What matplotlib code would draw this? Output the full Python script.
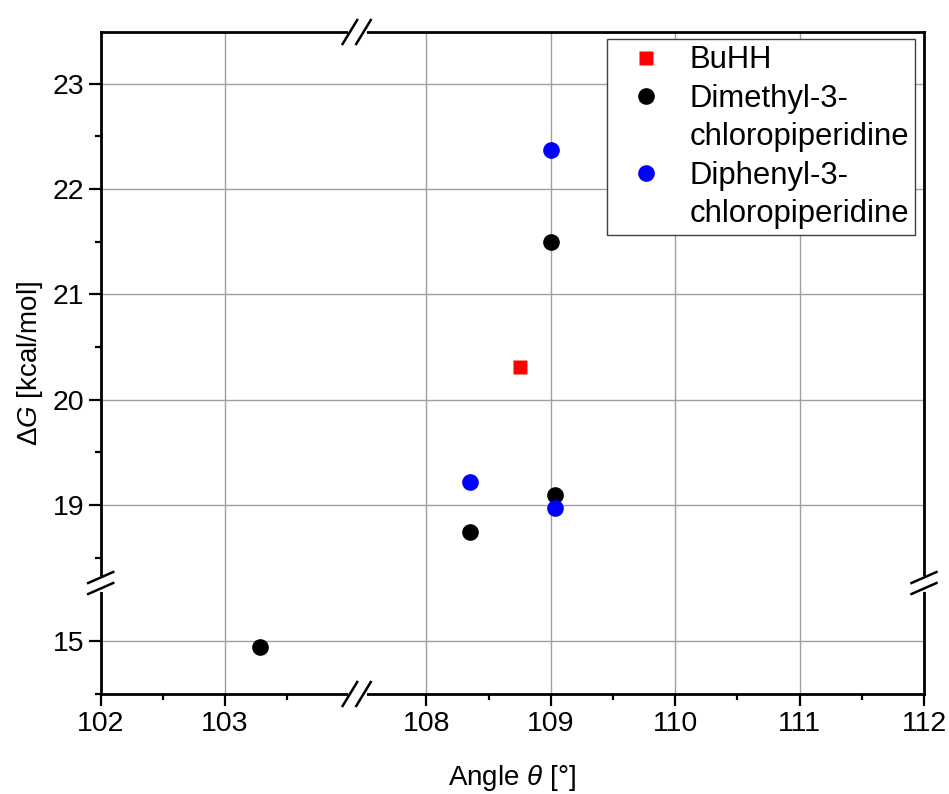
import matplotlib
matplotlib.use('Agg')
import matplotlib.pyplot as plt
from matplotlib.lines import Line2D
from matplotlib.ticker import FixedLocator

plt.rcParams['font.family'] = ['Liberation Sans', 'DejaVu Sans']
plt.rcParams['mathtext.fontset'] = 'custom'
plt.rcParams['mathtext.rm'] = 'Liberation Sans'
plt.rcParams['mathtext.it'] = 'Liberation Sans:italic'

# data
buhh_x = [108.75]
buhh_y = [20.31]
dimethyl_x = [103.28, 108.35, 109.03, 109.0]
dimethyl_y = [14.94, 18.74, 19.10, 21.50]
diphenyl_x = [108.35, 109.03, 109.0]
diphenyl_y = [19.22, 18.97, 22.37]

labels = ["BuHH", "Dimethyl-3-\nchloropiperidine", "Diphenyl-3-\nchloropiperidine"]

x_left = (102, 104.06)
x_right = (107.44, 112)
y_top = (18.26, 23.49)
y_bot = (14.5, 15.55)

W, H = 949, 794
fig = plt.figure(figsize=(W / 100, H / 100), dpi=100)
L, R, T, B = 100.7, 924.0, 32.0, 694.0
XB, YB = 356.7, 583.0
gs = fig.add_gridspec(2, 2, width_ratios=[XB - L, R - XB], height_ratios=[YB - T, B - YB],
                      left=L / W, right=R / W, top=1 - T / H, bottom=1 - B / H,
                      wspace=0, hspace=0)
ax_tl = fig.add_subplot(gs[0, 0])
ax_tr = fig.add_subplot(gs[0, 1])
ax_bl = fig.add_subplot(gs[1, 0])
ax_br = fig.add_subplot(gs[1, 1])

axes = [ax_tl, ax_tr, ax_bl, ax_br]
series = [
    (buhh_x, buhh_y, 's', '#ff0000', 10),
    (dimethyl_x, dimethyl_y, 'o', 'black', 12),
    (diphenyl_x, diphenyl_y, 'o', '#0000ff', 12),
]
for ax in axes:
    for xs, ys, mk, col, ms in series:
        ax.plot(xs, ys, mk, color=col, ms=ms, mec='none')
    ax.grid(True, which='major', color='#a0a0a0', lw=1.0)
    ax.set_axisbelow(True)
    for s in ax.spines.values():
        s.set_linewidth(2.0)
    ax.tick_params(which='major', length=8.5, width=1.6, labelsize=20.5, direction='out')
    ax.tick_params(which='minor', length=4.5, width=1.6, direction='out')

for ax in (ax_tl, ax_bl):
    ax.set_xlim(*x_left)
    ax.xaxis.set_major_locator(FixedLocator([102, 103]))
    ax.xaxis.set_minor_locator(FixedLocator([102.5, 103.5]))
for ax in (ax_tr, ax_br):
    ax.set_xlim(*x_right)
    ax.xaxis.set_major_locator(FixedLocator([108, 109, 110, 111, 112]))
    ax.xaxis.set_minor_locator(FixedLocator([108.5, 109.5, 110.5, 111.5]))
for ax in (ax_tl, ax_tr):
    ax.set_ylim(*y_top)
    ax.yaxis.set_major_locator(FixedLocator([19, 20, 21, 22, 23]))
    ax.yaxis.set_minor_locator(FixedLocator([18.5, 19.5, 20.5, 21.5, 22.5]))
for ax in (ax_bl, ax_br):
    ax.set_ylim(*y_bot)
    ax.yaxis.set_major_locator(FixedLocator([15]))
    ax.yaxis.set_minor_locator(FixedLocator([14.5]))

ax_tl.spines['bottom'].set_visible(False)
ax_tl.spines['right'].set_visible(False)
ax_tl.tick_params(which='both', bottom=False, labelbottom=False)
ax_tr.spines['bottom'].set_visible(False)
ax_tr.spines['left'].set_visible(False)
ax_tr.tick_params(which='both', bottom=False, labelbottom=False, left=False, labelleft=False)
ax_bl.spines['top'].set_visible(False)
ax_bl.spines['right'].set_visible(False)
ax_br.spines['top'].set_visible(False)
ax_br.spines['left'].set_visible(False)
ax_br.tick_params(which='both', left=False, labelleft=False)

# break marks
def fx(px):
    return px / W

def fy(py):
    return 1 - py / H

def xbreak(yc):
    fig.add_artist(Line2D([fx(XB - 7), fx(XB + 7)], [fy(yc), fy(yc)], color='white', lw=3.5,
                          transform=fig.transFigure, zorder=10))
    for cx in (XB - 6.8, XB + 6.8):
        fig.add_artist(Line2D([fx(cx - 7.3), fx(cx + 7.3)], [fy(yc + 12), fy(yc - 12)],
                              color='black', lw=1.8, transform=fig.transFigure, zorder=11))

def ybreak(xc):
    fig.add_artist(Line2D([fx(xc), fx(xc)], [fy(YB - 5.5), fy(YB + 5.5)], color='white', lw=3.5,
                          transform=fig.transFigure, zorder=10))
    for cy in (YB - 5.5, YB + 5.5):
        fig.add_artist(Line2D([fx(xc - 12.5), fx(xc + 12.5)], [fy(cy + 5.5), fy(cy - 5.5)],
                              color='black', lw=1.8, transform=fig.transFigure, zorder=11))

xbreak(T)
xbreak(B)
ybreak(L)
ybreak(R)

# legend: one row per text line, marker on the first line of each entry
handles, texts = [], []
for (xs, ys, mk, col, ms), lab in zip(series, labels):
    for i, line in enumerate(lab.split("\n")):
        if i == 0:
            handles.append(Line2D([], [], ls='none', marker=mk, color=col, ms=ms, mec='none'))
        else:
            handles.append(Line2D([], [], ls='none', marker=None))
        texts.append(line)

leg = ax_tr.legend(handles, texts, loc='upper right', bbox_to_anchor=(915.3 / W, 1 - 39.3 / H),
                   bbox_transform=fig.transFigure, borderaxespad=0, fontsize=22.3,
                   frameon=True, fancybox=False, framealpha=1, edgecolor='#404040',
                   borderpad=0.2, handlelength=2.1, handletextpad=0.36, labelspacing=0.27,
                   numpoints=1)
leg.get_frame().set_linewidth(1.0)
leg.set_zorder(20)

fig.text((L + R) / 2 / W, fy(778), r"Angle $\theta$ [°]", ha='center', va='center', fontsize=20)
fig.text(fx(30), fy(363), r"$\Delta$$G$ [kcal/mol]", ha='center', va='center', rotation=90, fontsize=20)

plt.savefig("out.png", dpi=100, facecolor='white')
plt.close()
